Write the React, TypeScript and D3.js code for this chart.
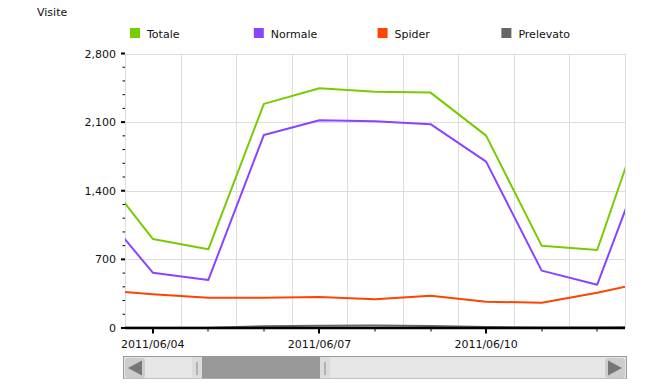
import * as d3 from 'd3';
import React, { useEffect, useRef } from 'react';

// one value per day, 2011/06/03 .. 2011/06/13 (first/last are clipped by the view)
const days = [
  '2011-06-03', '2011-06-04', '2011-06-05', '2011-06-06', '2011-06-07', '2011-06-08',
  '2011-06-09', '2011-06-10', '2011-06-11', '2011-06-12', '2011-06-13',
];
const totale = [1636, 908, 803, 2286, 2446, 2411, 2401, 1962, 840, 796, 2442];
const normale = [1246, 564, 490, 1969, 2119, 2109, 2079, 1697, 585, 442, 1946];
const spider = [390, 344, 309, 309, 316, 293, 330, 268, 258, 360, 482];
const prelevato = [2, 2, 3, 18, 22, 25, 20, 10, 5, 6, 8];

const seriesNames = ['Totale', 'Normale', 'Spider', 'Prelevato'];
const seriesColors = ['#77cc00', '#8844ff', '#ff4400', '#666666'];
const yTicks = [0, 700, 1400, 2100, 2800];
const labelDays = ['2011-06-04', '2011-06-07', '2011-06-10'];

const parse = (s: string) => {
  const [y, m, d] = s.split('-').map(Number);
  return new Date(y, m - 1, d);
};

const App: React.FC = () => {
  const svgRef = useRef<SVGSVGElement | null>(null);

  useEffect(() => {
    if (!svgRef.current) return;
    const svg = d3.select(svgRef.current);
    svg.selectAll('*').remove();

    const left = 125, right = 625, top = 53.5, bottom = 328;
    const font = 'DejaVu Sans, Verdana, sans-serif';

    const x = d3.scaleTime()
      .domain([new Date(2011, 5, 3, 12), new Date(2011, 5, 12, 12)])
      .range([left, right]);
    const y = d3.scaleLinear().domain([0, 2800]).range([bottom, top]);

    // title
    svg.append('text').attr('x', 37).attr('y', 16).attr('font-family', font)
      .attr('font-size', 11).attr('fill', '#111').text('Visite');

    // legend
    const lg = svg.append('g');
    seriesNames.forEach((n, i) => {
      const lx = 130 + i * 123.8;
      lg.append('rect').attr('x', lx).attr('y', 28).attr('width', 10).attr('height', 10)
        .attr('fill', seriesColors[i]);
      lg.append('text').attr('x', lx + 17).attr('y', 37.5).attr('font-family', font)
        .attr('font-size', 11).attr('fill', '#111').text(n);
    });

    // grid
    const grid = svg.append('g').attr('stroke', '#dddddd').attr('stroke-width', 1);
    const gridDates = d3.timeDay.range(new Date(2011, 5, 3), new Date(2011, 5, 13))
      .map((d) => d3.timeHour.offset(d, 12));
    grid.selectAll('line.v').data(gridDates).enter().append('line')
      .attr('x1', (d) => Math.round(x(d)) + 0.5).attr('x2', (d) => Math.round(x(d)) + 0.5)
      .attr('y1', top).attr('y2', bottom);
    grid.selectAll('line.h').data(yTicks.slice(1)).enter().append('line')
      .attr('x1', left).attr('x2', right)
      .attr('y1', (d) => Math.round(y(d)) + 0.5).attr('y2', (d) => Math.round(y(d)) + 0.5);

    // y axis ticks + labels
    const yAxis = svg.append('g');
    d3.range(0, 2801, 140).forEach((v) => {
      const major = v % 700 === 0;
      yAxis.append('line').attr('x1', major ? 121 : 122.5).attr('x2', 125)
        .attr('y1', y(v)).attr('y2', y(v)).attr('stroke', '#000')
        .attr('stroke-width', major ? 2 : 1);
    });
    yAxis.selectAll('text').data(yTicks).enter().append('text')
      .attr('x', 116).attr('y', (d) => y(d) + 4).attr('text-anchor', 'end')
      .attr('font-family', font).attr('font-size', 11).attr('fill', '#111')
      .text((d) => d3.format(',')(d));

    // series
    const dates = days.map(parse);
    const clip = svg.append('defs').append('clipPath').attr('id', 'plot');
    clip.append('rect').attr('x', left).attr('y', top - 5).attr('width', right - left)
      .attr('height', bottom - top + 5);
    const line = d3.line<number>().x((_, i) => x(dates[i])).y((d) => y(d));
    const plot = svg.append('g').attr('clip-path', 'url(#plot)');
    [prelevato, spider, normale, totale].forEach((s, k) => {
      const idx = 3 - k;
      plot.append('path').attr('d', line(s)).attr('fill', 'none')
        .attr('stroke', seriesColors[idx]).attr('stroke-width', 2)
        .attr('stroke-linejoin', 'round');
    });

    // x axis
    const xAxis = svg.append('g');
    xAxis.append('line').attr('x1', left).attr('x2', right).attr('y1', bottom)
      .attr('y2', bottom).attr('stroke', '#000').attr('stroke-width', 2.5);
    const tickDays = d3.timeDay.range(new Date(2011, 5, 4), new Date(2011, 5, 13));
    const labelSet = new Set(labelDays);
    tickDays.forEach((d) => {
      const major = labelSet.has(d3.timeFormat('%Y-%m-%d')(d));
      const tx = Math.round(x(d));
      xAxis.append('line').attr('x1', tx).attr('x2', tx).attr('y1', bottom)
        .attr('y2', major ? bottom + 5.5 : bottom + 3.5).attr('stroke', '#000')
        .attr('stroke-width', major ? 2 : 1);
    });
    labelDays.map(parse).forEach((d) => {
      xAxis.append('text').attr('x', x(d)).attr('y', 347.5).attr('text-anchor', 'middle')
        .attr('font-family', font).attr('font-size', 11).attr('fill', '#111')
        .text(d3.timeFormat('%Y/%m/%d')(d));
    });

    // scrollbar
    const sb = svg.append('g');
    sb.append('rect').attr('x', 123.5).attr('y', 356.5).attr('width', 503).attr('height', 22.5)
      .attr('fill', '#e6e6e6').attr('stroke', '#999').attr('stroke-width', 1);
    sb.append('rect').attr('x', 125).attr('y', 358).attr('width', 20).attr('height', 20)
      .attr('rx', 3).attr('fill', '#cccccc');
    sb.append('path').attr('d', 'M128,368 L142,360.5 L142,375.5 Z').attr('fill', '#777');
    sb.append('rect').attr('x', 605).attr('y', 358).attr('width', 20).attr('height', 20)
      .attr('rx', 3).attr('fill', '#cccccc');
    sb.append('path').attr('d', 'M622,368 L608,360.5 L608,375.5 Z').attr('fill', '#777');
    sb.append('rect').attr('x', 192).attr('y', 357).attr('width', 138).attr('height', 21.5)
      .attr('fill', '#999999');
    [192, 320].forEach((hx) => {
      sb.append('rect').attr('x', hx).attr('y', 357).attr('width', 10).attr('height', 21.5)
        .attr('fill', '#dcdcdc');
      sb.append('line').attr('x1', hx + 5).attr('x2', hx + 5).attr('y1', 362).attr('y2', 375)
        .attr('stroke', '#888').attr('stroke-width', 1);
    });
  }, []);

  return <svg ref={svgRef} width={650} height={387} style={{ display: 'block', margin: '-8px' }} />;
};

export default App;
